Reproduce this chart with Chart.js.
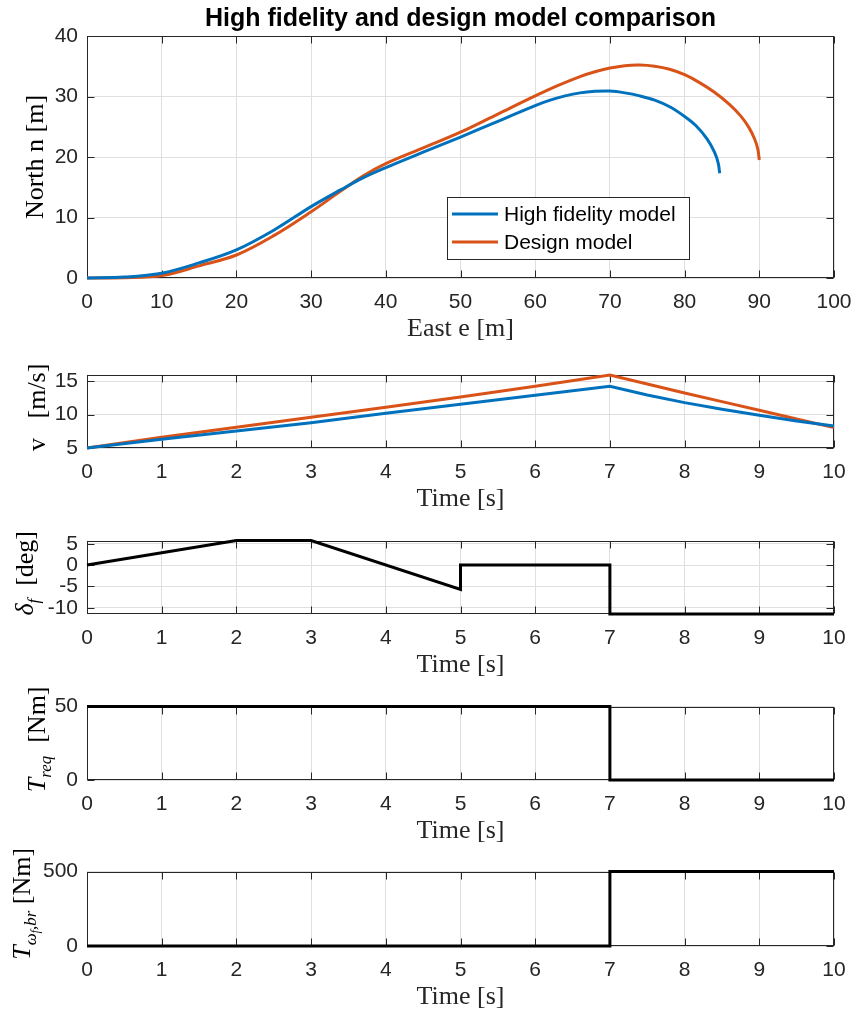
<!DOCTYPE html>
<html>
<head>
<meta charset="utf-8">
<script src="https://cdn.jsdelivr.net/npm/chart.js@4.4.0/dist/chart.umd.min.js"></script>
<style>
  html, body { margin: 0; padding: 0; background: #fff; }
  #fig { position: relative; width: 854px; height: 1015px; overflow: hidden; }
  #fig canvas { position: absolute; left: 0; }
</style>
</head>
<body>
<div id="fig">
  <canvas id="traj" width="854" height="345" style="top:0px"></canvas>
  <canvas id="speed" width="854" height="162" style="top:353px"></canvas>
  <canvas id="steer" width="854" height="162" style="top:519px"></canvas>
  <canvas id="treq" width="854" height="162" style="top:685px"></canvas>
  <canvas id="tbr" width="854" height="163" style="top:850px"></canvas>
</div>
<script>
// trajectory
const eastHF = [0, 5, 10, 15, 20, 25, 30, 34, 37, 40, 45, 50, 55, 60, 62, 64, 66, 68, 70, 72, 74, 76, 78, 80, 81.5, 83, 84, 84.5, 84.7];
const northHF = [0, 0.15, 0.8, 2.5, 4.65, 7.9, 11.8, 14.6, 16.6, 18.25, 20.8, 23.3, 25.9, 28.5, 29.4, 30.1, 30.6, 30.85, 30.9, 30.6, 30.1, 29.4, 28.3, 26.7, 25.2, 23.0, 20.8, 19.0, 17.3];
const eastDM = [0, 5, 10, 15, 20, 25, 30, 34, 37, 40, 45, 50, 55, 60, 63, 66, 68, 70, 72, 74, 76, 78, 80, 82, 84, 86, 87.5, 88.6, 89.4, 89.8, 90];
const northDM = [0, 0.05, 0.4, 2.0, 3.8, 7.0, 10.95, 14.4, 16.9, 18.9, 21.5, 24.1, 27.1, 30.1, 31.8, 33.3, 34.1, 34.7, 35.1, 35.2, 35.0, 34.5, 33.6, 32.3, 30.7, 28.7, 26.8, 24.9, 22.9, 21.3, 19.5];
const eastTicks = [0, 10, 20, 30, 40, 50, 60, 70, 80, 90, 100];
const northTicks = [0, 10, 20, 30, 40];

// speed
const timeV = [0, 1, 2, 3, 4, 5, 6, 7, 7.5, 8, 8.5, 9, 9.5, 10];
const speedHF = [5, 6.3, 7.55, 8.8, 10.2, 11.55, 12.9, 14.25, 12.95, 11.8, 10.8, 9.9, 9.05, 8.3];
const speedDM = [5, 6.6, 8.1, 9.6, 11.1, 12.65, 14.25, 15.95, 14.6, 13.25, 11.95, 10.65, 9.35, 8.05];
const speedTicks = [5, 10, 15];

// steering angle
const timeSteer = [0, 2, 3, 5, 5, 7, 7, 10];
const steerDeg = [0, 5.73, 5.73, -5.73, 0, 0, -11.46, -11.46];
const steerTicks = [-10, -5, 0, 5];

// requested torque
const timeReq = [0, 7, 7, 10];
const torqueReq = [50, 50, 0, 0];
const reqTicks = [0, 50];

// brake torque
const timeBr = [0, 7, 7, 10];
const torqueBr = [0, 0, 500, 500];
const brTicks = [0, 500];

const timeTicks = [0, 1, 2, 3, 4, 5, 6, 7, 8, 9, 10];

const BLUE = '#0072BD';
const ORANGE = '#D95319';
const AXIS = '#262626';

function pts(xs, ys) {
  return xs.map((x, i) => ({ x: x, y: ys[i] }));
}

// matlab style box, inward ticks, ylabel with subscripts, title and legend
const matlabLook = {
  id: 'matlabLook',
  beforeDatasetsDraw(chart, args, opts) {
    const ctx = chart.ctx;
    const a = chart.chartArea;
    const sx = chart.scales.x, sy = chart.scales.y;
    const L = Math.round(a.left) + 0.5, R = Math.round(a.right) - 0.5;
    const T = Math.round(a.top) + 0.5, B = Math.round(a.bottom) - 0.5;
    ctx.save();
    ctx.strokeStyle = AXIS;
    ctx.lineWidth = 1;
    ctx.beginPath();
    sx.ticks.forEach(t => {
      const p = Math.round(sx.getPixelForValue(t.value)) + 0.5;
      ctx.moveTo(p, B); ctx.lineTo(p, B - 7);
      ctx.moveTo(p, T); ctx.lineTo(p, T + 7);
    });
    sy.ticks.forEach(t => {
      const p = Math.round(sy.getPixelForValue(t.value)) + 0.5;
      ctx.moveTo(L, p); ctx.lineTo(L + 7, p);
      ctx.moveTo(R, p); ctx.lineTo(R - 7, p);
    });
    ctx.stroke();
    ctx.strokeRect(L, T, R - L, B - T);
    ctx.restore();
  },
  afterDraw(chart, args, opts) {
    const ctx = chart.ctx;
    const a = chart.chartArea;
    ctx.save();
    ctx.fillStyle = '#000';
    if (opts.title) {
      ctx.font = 'bold 25px "Liberation Sans"';
      ctx.textAlign = 'center';
      ctx.textBaseline = 'alphabetic';
      ctx.fillText(opts.title, (a.left + a.right) / 2, 26);
    }
    if (opts.ylabel) {
      const base = 26;
      const segs = opts.ylabel;
      const fontFor = s => {
        const size = s.sub === 2 ? base * 0.45 : s.sub === 1 ? base * 0.65 : base;
        return (s.it ? 'italic ' : '') + size + 'px "Liberation Serif"';
      };
      let w = 0;
      segs.forEach(s => { ctx.font = fontFor(s); w += ctx.measureText(s.t).width; });
      ctx.translate(opts.ylabelX, (a.top + a.bottom) / 2 + (opts.ylabelShift || 0));
      ctx.rotate(-Math.PI / 2);
      ctx.textAlign = 'left';
      ctx.textBaseline = 'alphabetic';
      let cx = -w / 2;
      segs.forEach(s => {
        ctx.font = fontFor(s);
        const dy = s.sub === 2 ? base * 0.36 : s.sub === 1 ? base * 0.22 : 0;
        ctx.fillText(s.t, cx, dy);
        cx += ctx.measureText(s.t).width;
      });
      ctx.setTransform(1, 0, 0, 1, 0, 0);
    }
    if (opts.legend) {
      const x0 = a.left + 360, y0 = a.top + 161, w = 242, h = 62;
      ctx.fillStyle = '#fff';
      ctx.fillRect(x0, y0, w, h);
      ctx.strokeStyle = AXIS;
      ctx.lineWidth = 1;
      ctx.strokeRect(x0 + 0.5, y0 + 0.5, w, h);
      ctx.font = '21px "Liberation Sans"';
      ctx.textBaseline = 'middle';
      ctx.textAlign = 'left';
      chart.data.datasets.forEach((ds, i) => {
        const y = y0 + 17 + i * 28;
        ctx.strokeStyle = ds.borderColor;
        ctx.lineWidth = 3;
        ctx.beginPath();
        ctx.moveTo(x0 + 5, y);
        ctx.lineTo(x0 + 51, y);
        ctx.stroke();
        ctx.fillStyle = '#000';
        ctx.fillText(ds.label, x0 + 57, y + 1);
      });
    }
    ctx.restore();
  }
};
Chart.register(matlabLook);

function axis(isX, min, max, tickVals, title) {
  return {
    type: 'linear',
    min: min,
    max: max,
    afterBuildTicks: s => { s.ticks = tickVals.map(v => ({ value: v })); },
    afterFit: s => {
      if (isX) {
        s.height = 67;
        s.paddingLeft = 0;
        s.paddingRight = 0;
      } else {
        s.width = 87;
      }
    },
    grid: { color: '#dfdfdf', lineWidth: 1, drawTicks: false },
    border: { display: false },
    ticks: {
      color: AXIS,
      font: { family: 'Liberation Sans', size: 21 },
      padding: isX ? 12 : 9,
      maxRotation: 0,
      autoSkip: false,
      callback: v => String(v)
    },
    title: isX ? {
      display: true,
      text: title,
      color: AXIS,
      font: { family: 'Liberation Serif', size: 26 },
      padding: 0
    } : { display: false }
  };
}

function lineSet(label, data, color, smooth) {
  return {
    label: label,
    data: data,
    borderColor: color,
    backgroundColor: color,
    borderWidth: 3,
    pointRadius: 0,
    fill: false,
    clip: false,
    tension: smooth ? 0.35 : 0
  };
}

function makeChart(id, datasets, xAxis, yAxis, padTop, look) {
  return new Chart(document.getElementById(id), {
    type: 'line',
    data: { datasets: datasets },
    options: {
      responsive: false,
      animation: false,
      events: [],
      layout: { padding: { top: padTop, right: 20, left: 0, bottom: 0 } },
      plugins: {
        legend: { display: false },
        tooltip: { enabled: false },
        matlabLook: look
      },
      scales: { x: xAxis, y: yAxis }
    }
  });
}

makeChart('traj', [
    lineSet('High fidelity model', pts(eastHF, northHF), BLUE, true),
    lineSet('Design model', pts(eastDM, northDM), ORANGE, true)
  ],
  axis(true, 0, 100, eastTicks, 'East e [m]'),
  axis(false, 0, 40, northTicks),
  36,
  { title: 'High fidelity and design model comparison', legend: true,
    ylabel: [{ t: 'North n [m]' }], ylabelX: 43 });

makeChart('speed', [
    lineSet('High fidelity model', pts(timeV, speedHF), BLUE, false),
    lineSet('Design model', pts(timeV, speedDM), ORANGE, false)
  ],
  axis(true, 0, 10, timeTicks, 'Time [s]'),
  axis(false, 5, 16, speedTicks),
  14,
  { ylabel: [{ t: 'v   [m/s]' }], ylabelX: 45, ylabelShift: -4 });

makeChart('steer', [
    lineSet('steer', pts(timeSteer, steerDeg), '#000', false)
  ],
  axis(true, 0, 10, timeTicks, 'Time [s]'),
  axis(false, -11.46, 5.73, steerTicks),
  14,
  { ylabel: [{ t: '\u03b4', it: true }, { t: 'f', it: true, sub: 1 }, { t: '  [deg]' }], ylabelX: 33, ylabelShift: -4 });

makeChart('treq', [
    lineSet('treq', pts(timeReq, torqueReq), '#000', false)
  ],
  axis(true, 0, 10, timeTicks, 'Time [s]'),
  axis(false, 0, 50, reqTicks),
  14,
  { ylabel: [{ t: 'T', it: true }, { t: 'req', it: true, sub: 1 }, { t: '  [Nm]' }], ylabelX: 45, ylabelShift: -4 });

makeChart('tbr', [
    lineSet('tbr', pts(timeBr, torqueBr), '#000', false)
  ],
  axis(true, 0, 10, timeTicks, 'Time [s]'),
  axis(false, 0, 500, brTicks),
  14,
  { ylabel: [{ t: 'T', it: true }, { t: '\u03c9', it: true, sub: 1 }, { t: 'f', it: true, sub: 2 }, { t: ',br', it: true, sub: 1 }, { t: ' [Nm]' }], ylabelX: 30, ylabelShift: -5 });
</script>
</body>
</html>
